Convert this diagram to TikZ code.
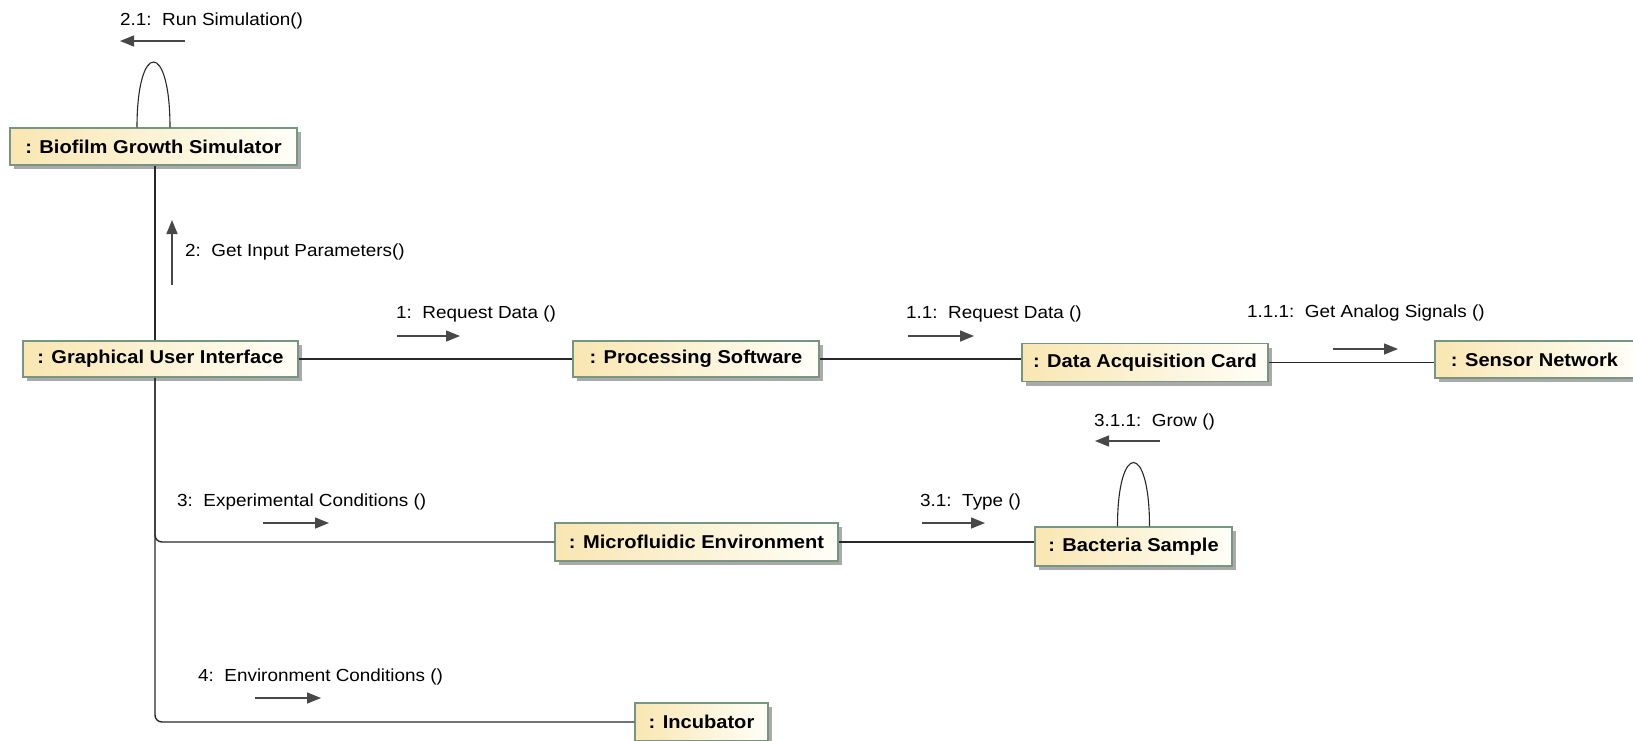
\documentclass[tikz,border=0pt]{standalone}
\usepackage{fontspec}
\setmainfont{Liberation Sans}[FakeStretch=1.08]
\usetikzlibrary{arrows.meta,shadows}
\definecolor{objfill}{RGB}{249,230,178}
\definecolor{objfilltwo}{RGB}{255,255,248}
\definecolor{objedge}{RGB}{118,150,130}
\definecolor{objshadow}{RGB}{170,170,170}
\definecolor{linkc}{RGB}{40,40,40}
\definecolor{msgc}{RGB}{72,72,72}
\tikzset{
  obj/.style={draw=objedge, line width=1.5pt, left color=objfill, right color=objfilltwo,
    drop shadow={shadow xshift=4pt, shadow yshift=-4pt, fill=objshadow, opacity=1},
    inner sep=0pt, text=black, font=\fontsize{18.6}{22}\selectfont\bfseries},
  link/.style={draw=linkc, line width=1.4pt},
  selfloop/.style={draw=linkc, line width=1.1pt},
  msg/.style={draw=msgc, line width=1.4pt, -{Triangle[length=14pt,width=11pt]}},
  lbl/.style={anchor=west, inner sep=0pt, text=black, font=\fontsize{17.5}{21}\selectfont},
}
\begin{document}
\begin{tikzpicture}[x=1pt,y=-1pt]
\clip (0,0) rectangle (1633,740);
\fill[white] (0,0) rectangle (1633,740);

% objects
\node[obj, minimum width=287pt, minimum height=37pt] (bgs) at (153.5,146.5) {: Biofilm Growth Simulator};
\node[obj, minimum width=275pt, minimum height=36pt] (gui) at (160.5,359) {: Graphical User Interface};
\node[obj, minimum width=246pt, minimum height=36pt] (ps) at (696,359) {: Processing Software};
\node[obj, minimum width=246pt, minimum height=38pt] (dac) at (1145,362.5) {: Data Acquisition Card};
\node[obj, minimum width=199pt, minimum height=37pt] (sn) at (1534.5,359.5) {: Sensor Network};
\node[obj, minimum width=283pt, minimum height=38pt] (mf) at (696.5,542) {: Microfluidic Environment};
\node[obj, minimum width=197pt, minimum height=39pt] (bs) at (1133.5,546.5) {: Bacteria Sample};
\node[obj, minimum width=133pt, minimum height=38pt] (inc) at (701.5,722) {: Incubator};

% links
\coordinate (vx) at (155,0);
\draw[link] (bgs.south -| vx) -- (gui.north -| vx);
\draw[link, rounded corners=7pt] (gui.south -| vx) |- (mf.west);
\draw[link, rounded corners=7pt] (gui.south -| vx) |- (inc.west);
\draw[link] (gui.east) -- (ps.west);
\draw[link] (ps.east) -- (ps.east -| dac.west);
\draw[link] (dac.east) -- (dac.east -| sn.west);
\draw[link] (mf.east) -- (mf.east -| bs.west);

% self links
\draw[selfloop] ([xshift=-16.5pt]bgs.north) .. controls +(0,-87) and +(0,-87) .. ([xshift=16.5pt]bgs.north);
\draw[selfloop] ([xshift=-16pt]bs.north) .. controls +(0,-85) and +(0,-85) .. ([xshift=16pt]bs.north);

% messages
\coordinate (m21a) at (185,41);   \coordinate (m21b) at (120,41);
\coordinate (m2a) at (172,285);   \coordinate (m2b) at (172,220);
\coordinate (m1a) at (397,336);   \coordinate (m1b) at (460,336);
\coordinate (m11a) at (908,336);  \coordinate (m11b) at (974,336);
\coordinate (m111a) at (1333,349); \coordinate (m111b) at (1398,349);
\coordinate (m311a) at (1160,441); \coordinate (m311b) at (1095,441);
\coordinate (m3a) at (263,523);   \coordinate (m3b) at (329,523);
\coordinate (m31a) at (922,523);  \coordinate (m31b) at (985,523);
\coordinate (m4a) at (255,698);   \coordinate (m4b) at (321,698);

\draw[msg] (m21a) -- (m21b);
\draw[msg] (m2a) -- (m2b);
\draw[msg] (m1a) -- (m1b);
\draw[msg] (m11a) -- (m11b);
\draw[msg] (m111a) -- (m111b);
\draw[msg] (m311a) -- (m311b);
\draw[msg] (m3a) -- (m3b);
\draw[msg] (m31a) -- (m31b);
\draw[msg] (m4a) -- (m4b);

\node[lbl] (l21) at (120,20.5) {2.1:\ \ Run Simulation()};
\node[lbl] (l2) at (185,252) {2:\ \ Get Input Parameters()};
\node[lbl] (l1) at (396,313.5) {1:\ \ Request Data ()};
\node[lbl] (l11) at (906,313.5) {1.1:\ \ Request Data ()};
\node[lbl] (l111) at (1247,313) {1.1.1:\ \ Get Analog Signals ()};
\node[lbl] (l311) at (1094,422) {3.1.1:\ \ Grow ()};
\node[lbl] (l3) at (177,502) {3:\ \ Experimental Conditions ()};
\node[lbl] (l31) at (920,502) {3.1:\ \ Type ()};
\node[lbl] (l4) at (198,677) {4:\ \ Environment Conditions ()};
\end{tikzpicture}
\end{document}
